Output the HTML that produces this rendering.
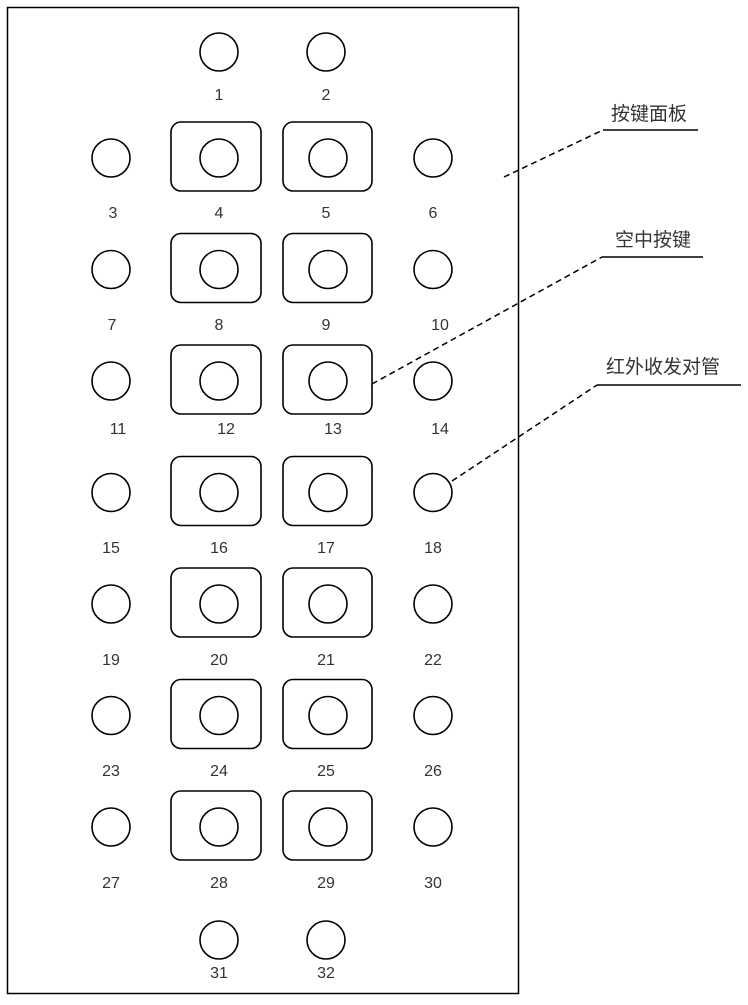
<!DOCTYPE html>
<html><head><meta charset="utf-8"><style>
body{margin:0;background:#fff}
svg text{font-family:"Liberation Sans","Noto Sans CJK SC",sans-serif;fill:#333}
</style></head><body>
<svg width="748" height="1000" viewBox="0 0 748 1000" xmlns="http://www.w3.org/2000/svg">
<rect x="7.5" y="7.5" width="511" height="986" fill="none" stroke="#000" stroke-width="1.5"/>
<g fill="none" stroke="#000" stroke-width="1.6">
<circle cx="219" cy="52" r="19"/><circle cx="326" cy="52" r="19"/>
<circle cx="219" cy="940" r="19"/><circle cx="326" cy="940" r="19"/>
<g id="row">
<circle cx="111" cy="158" r="19"/>
<rect x="171" y="122" width="90" height="69" rx="10"/>
<circle cx="219" cy="158" r="19"/>
<rect x="283" y="122" width="89" height="69" rx="10"/>
<circle cx="328" cy="158" r="19"/>
<circle cx="433" cy="158" r="19"/>
</g>
<use href="#row" y="111.5"/><use href="#row" y="223"/><use href="#row" y="334.5"/>
<use href="#row" y="446"/><use href="#row" y="557.5"/><use href="#row" y="669"/>
</g>
<g font-size="16" text-anchor="middle">
<text x="219" y="100">1</text><text x="326" y="100">2</text>
<text x="113" y="218">3</text><text x="219" y="218">4</text><text x="326" y="218">5</text><text x="433" y="218">6</text>
<text x="112" y="330">7</text><text x="219" y="330">8</text><text x="326" y="330">9</text><text x="440" y="330">10</text>
<text x="118" y="434">11</text><text x="226" y="434">12</text><text x="333" y="434">13</text><text x="440" y="434">14</text>
<text x="111" y="553">15</text><text x="219" y="553">16</text><text x="326" y="553">17</text><text x="433" y="553">18</text>
<text x="111" y="665">19</text><text x="219" y="665">20</text><text x="326" y="665">21</text><text x="433" y="665">22</text>
<text x="111" y="776">23</text><text x="219" y="776">24</text><text x="326" y="776">25</text><text x="433" y="776">26</text>
<text x="111" y="888">27</text><text x="219" y="888">28</text><text x="326" y="888">29</text><text x="433" y="888">30</text>
<text x="219" y="978">31</text><text x="326" y="978">32</text>
</g>
<g stroke="#000" stroke-width="1.5" fill="none">
<path d="M504 177 L603 130" stroke-dasharray="6,4"/><path d="M603 130 H698"/>
<path d="M372 384 L602 257" stroke-dasharray="6,4"/><path d="M602 257 H703"/>
<path d="M452 481 L597 385" stroke-dasharray="6,4"/><path d="M597 385 H741"/>
</g>
<g font-size="19">
<text x="611" y="120">按键面板</text>
<text x="615" y="246">空中按键</text>
<text x="606" y="373">红外收发对管</text>
</g>
</svg>
</body></html>
